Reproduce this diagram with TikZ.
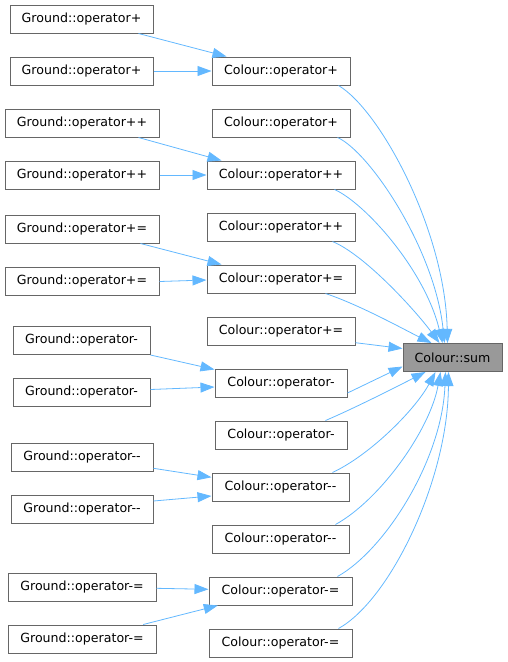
\documentclass[tikz,border=0pt]{standalone}
\usepackage{fontspec}
\setmainfont{DejaVu Sans}
\usetikzlibrary{arrows.meta}
\definecolor{edgeblue}{HTML}{63B8FF}
\definecolor{boxborder}{HTML}{666666}
\definecolor{sumfill}{HTML}{999999}
\begin{document}
\begin{tikzpicture}[x={(1pt,0)},y={(0,-1pt)},
  box/.style={draw=boxborder,line width=1pt,fill=white,minimum height=28pt,inner sep=0pt,
    font=\fontsize{12.6}{15}\selectfont},
  sumbox/.style={box,fill=sumfill},
  edge/.style={draw=edgeblue,line width=0.8pt,-{Triangle[length=14pt,width=10pt]}}]
\useasboundingbox (0,0) rectangle (508,662);
% Ground nodes
\node[box,minimum width=143pt] (G1) at (81.5,19) {Ground::operator+};
\node[box,minimum width=143pt] (G2) at (81.5,71) {Ground::operator+};
\node[box,minimum width=154pt] (G3) at (82,123) {Ground::operator++};
\node[box,minimum width=154pt] (G4) at (82,175) {Ground::operator++};
\node[box,minimum width=154pt] (G5) at (82,229) {Ground::operator+=};
\node[box,minimum width=154pt] (G6) at (82,281.5) {Ground::operator+=};
\node[box,minimum width=137pt] (G7) at (81.5,340.5) {Ground::operator-};
\node[box,minimum width=137pt] (G8) at (81.5,392.5) {Ground::operator-};
\node[box,minimum width=142pt] (G9) at (82,457.5) {Ground::operator-{}-};
\node[box,minimum width=142pt] (G10) at (82,509.5) {Ground::operator-{}-};
\node[box,minimum width=148pt] (G11) at (82,587) {Ground::operator-=};
\node[box,minimum width=148pt] (G12) at (82,639) {Ground::operator-=};
% Colour nodes
\node[box,minimum width=138pt] (C1) at (281,71) {Colour::operator+};
\node[box,minimum width=138pt] (C2) at (281,123) {Colour::operator+};
\node[box,minimum width=148pt] (C3) at (281,175) {Colour::operator++};
\node[box,minimum width=148pt] (C4) at (281,227) {Colour::operator++};
\node[box,minimum width=148pt] (C5) at (281,279) {Colour::operator+=};
\node[box,minimum width=148pt] (C6) at (281,331) {Colour::operator+=};
\node[box,minimum width=132pt] (C7) at (281,383) {Colour::operator-};
\node[box,minimum width=132pt] (C8) at (281,435) {Colour::operator-};
\node[box,minimum width=137pt] (C9) at (280.5,487) {Colour::operator-{}-};
\node[box,minimum width=137pt] (C10) at (280.5,539) {Colour::operator-{}-};
\node[box,minimum width=143pt] (C11) at (280.5,591) {Colour::operator-=};
\node[box,minimum width=143pt] (C12) at (280.5,643) {Colour::operator-=};
\node[sumbox,minimum width=99pt] (sum) at (452.5,357.5) {Colour::sum};
% Ground -> Colour
\draw[edge] ([xshift=-15pt]G1.south east) -- ([xshift=15pt]C1.north west);
\draw[edge] (G2.east) -- (C1.west);
\draw[edge] ([xshift=-21pt]G3.south east) -- ([xshift=15pt]C3.north west);
\draw[edge] (G4.east) -- (C3.west);
\draw[edge] ([xshift=-19pt]G5.south east) -- ([xshift=15pt]C5.north west);
\draw[edge] (G6.east) -- ([yshift=-1pt]C5.west);
\draw[edge] (G7.south east) -- ([yshift=-1pt]C7.north west);
\draw[edge] ([yshift=3pt]G8.east) -- ([yshift=-4pt]C7.west);
\draw[edge] ([yshift=-10.8pt]G9.east) -- ([yshift=9.7pt]C9.west);
\draw[edge] ([yshift=8.5pt]G10.east) -- ([yshift=-9pt]C9.west);
\draw[edge] ([yshift=-1.3pt]G11.east) -- ([yshift=1.7pt]C11.west);
\draw[edge] ([xshift=-13.3pt]G12.north east) -- ([xshift=9.3pt]C11.south west);
% Colour -> sum
\draw[edge] ([xshift=-12pt]C1.south east) .. controls (380,110) and (445,230) .. ([xshift=45pt]sum.north west);
\draw[edge] ([xshift=-13pt]C2.south east) .. controls (370,152) and (435,250) .. ([xshift=42pt]sum.north west);
\draw[edge] ([xshift=-21pt]C3.south east) .. controls (365,203) and (425,270) .. ([xshift=40pt]sum.north west);
\draw[edge] ([xshift=-23pt]C4.south east) .. controls (365,255) and (415,310) .. ([xshift=37pt]sum.north west);
\draw[edge] ([xshift=-30pt]C5.south east) .. controls (360,305) and (405,330) .. ([xshift=29pt]sum.north west);
\draw[edge] ([yshift=-11.7pt]C6.east) -- ([yshift=9pt]sum.west);
\draw[edge] ([yshift=-10pt]C7.east) -- ([yshift=-9pt]sum.west);
\draw[edge] ([xshift=-22pt]C8.north east) .. controls (355,408) and (400,385) .. ([xshift=23pt]sum.south west);
\draw[edge] ([xshift=-17pt]C9.north east) .. controls (370,455) and (415,410) .. ([xshift=33pt]sum.south west);
\draw[edge] ([xshift=-14pt]C10.north east) .. controls (380,500) and (430,430) .. ([xshift=38pt]sum.south west);
\draw[edge] ([xshift=-15pt]C11.north east) .. controls (385,550) and (442,460) .. ([xshift=43pt]sum.south west);
\draw[edge] ([xshift=-14pt]C12.north east) .. controls (390,600) and (448,480) .. ([xshift=46pt]sum.south west);
\end{tikzpicture}
\end{document}
